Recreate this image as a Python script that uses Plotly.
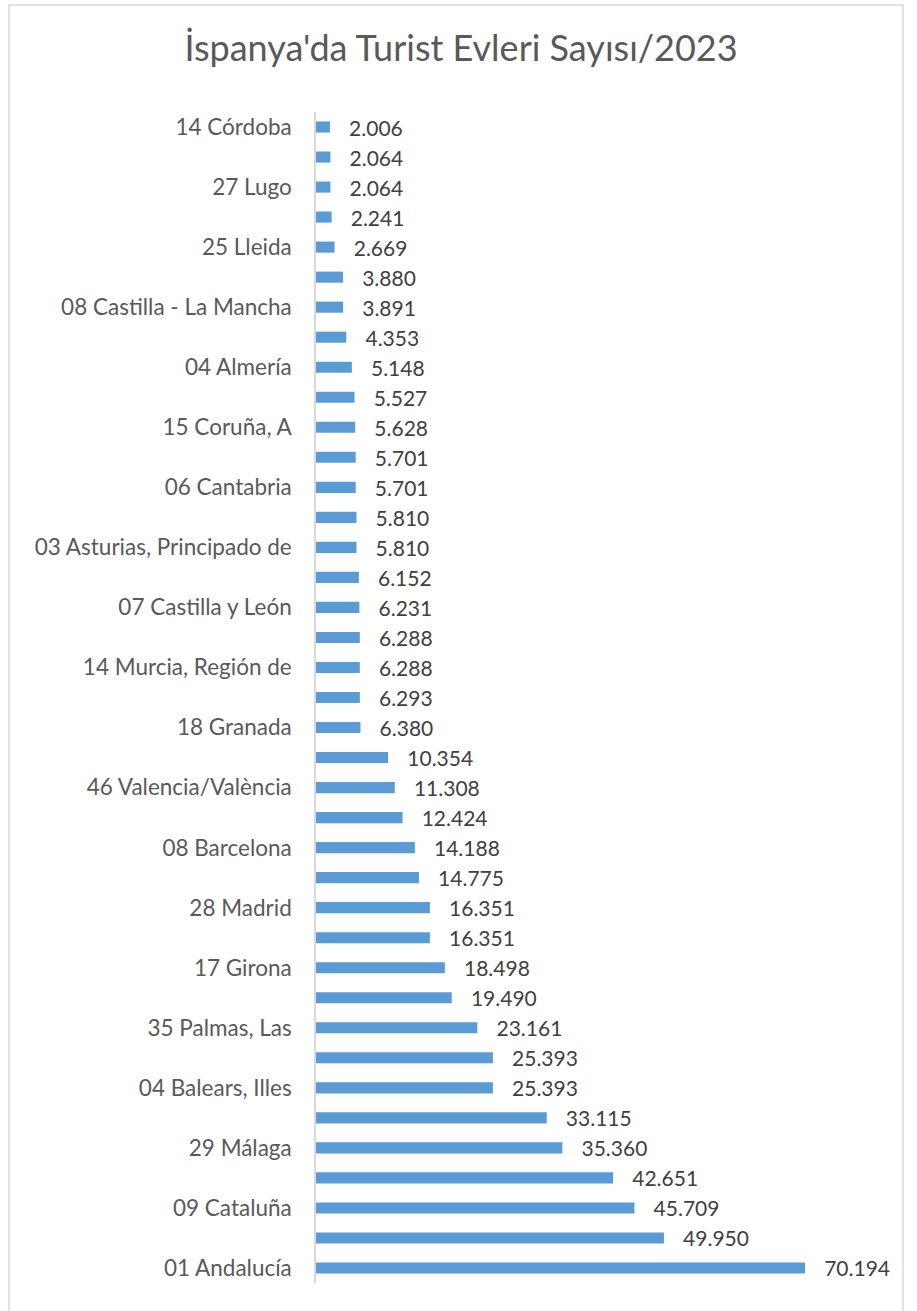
import plotly.graph_objects as go

# Categories (top to bottom). Odd-indexed names are hidden on the chart (Excel skipped them).
regions = [
    "14 Córdoba", "22 Huesca", "27 Lugo", "21 Huelva", "25 Lleida",
    "20 Gipuzkoa", "08 Castilla - La Mancha", "16 País Vasco", "04 Almería", "12 Castellón/Castelló",
    "15 Coruña, A", "39 Cantabria", "06 Cantabria", "33 Asturias", "03 Asturias, Principado de",
    "11 Cádiz", "07 Castilla y León", "30 Murcia", "14 Murcia, Región de", "36 Pontevedra",
    "18 Granada", "43 Tarragona", "46 Valencia/València", "41 Sevilla", "08 Barcelona",
    "12 Galicia", "28 Madrid", "13 Madrid, Comunidad de", "17 Girona", "38 Santa Cruz de Tenerife",
    "35 Palmas, Las", "07 Balears, Illes", "04 Balears, Illes", "03 Alicante/Alacant", "29 Málaga",
    "05 Canarias", "09 Cataluña", "10 Comunitat Valenciana", "01 Andalucía",
]
houses = [
    2006, 2064, 2064, 2241, 2669,
    3880, 3891, 4353, 5148, 5527,
    5628, 5701, 5701, 5810, 5810,
    6152, 6231, 6288, 6288, 6293,
    6380, 10354, 11308, 12424, 14188,
    14775, 16351, 16351, 18498, 19490,
    23161, 25393, 25393, 33115, 35360,
    42651, 45709, 49950, 70194,
]
shown_labels = regions[::2]

title_text = "İspanya'da Turist Evleri Sayısı/2023"

W, H = 917, 1311
plot_left, plot_right, plot_top, plot_bottom = 316, 895, 112, 1283
bar_end_px = 805  # pixel where the largest bar ends
xmax = max(houses) * (plot_right - plot_left) / (bar_end_px - plot_left)

fig = go.Figure(
    go.Bar(
        x=houses,
        y=regions,
        orientation="h",
        marker=dict(color="#5B9BD5", line=dict(width=0)),
        texttemplate="   %{x:,d}",
        textposition="outside",
        constraintext="none",
        textfont=dict(family="Lato", size=21, color="#404040"),
        cliponaxis=False,
    )
)

def px_to_paper_x(px):
    return (px - plot_left) / (plot_right - plot_left)

def px_to_paper_y(py):
    return (plot_bottom - py) / (plot_bottom - plot_top)

fig.add_shape(
    type="rect", xref="paper", yref="paper",
    x0=px_to_paper_x(9), x1=px_to_paper_x(903),
    y0=px_to_paper_y(1320), y1=px_to_paper_y(5),
    line=dict(color="#D9D9D9", width=1.5), fillcolor="rgba(0,0,0,0)", layer="below",
)

fig.update_layout(
    width=W, height=H,
    margin=dict(l=plot_left, r=W - plot_right, t=plot_top, b=H - plot_bottom, autoexpand=False),
    paper_bgcolor="white", plot_bgcolor="white",
    separators=",.",
    bargap=0.63,
    showlegend=False,
    title=dict(
        text=title_text, x=461 / W, xref="container", xanchor="center",
        y=1 - 48 / H, yref="container", yanchor="middle",
        font=dict(family="Lato", size=36, color="#595959"),
    ),
    font=dict(family="Lato"),
)
fig.update_xaxes(range=[0, xmax], visible=False, showgrid=False, zeroline=False)
fig.update_yaxes(
    type="category", autorange="reversed",
    tickmode="array", tickvals=shown_labels, ticktext=shown_labels,
    tickfont=dict(family="Lato", size=22.5, color="#595959"),
    showline=True, linecolor="#D9D9D9", linewidth=1.5,
    ticks="", ticklabelstandoff=18, showgrid=False, zeroline=False,
)

fig.write_html(
    "out.html",
    config={"displayModeBar": False},
    post_script="document.body.style.margin='0';",
)
